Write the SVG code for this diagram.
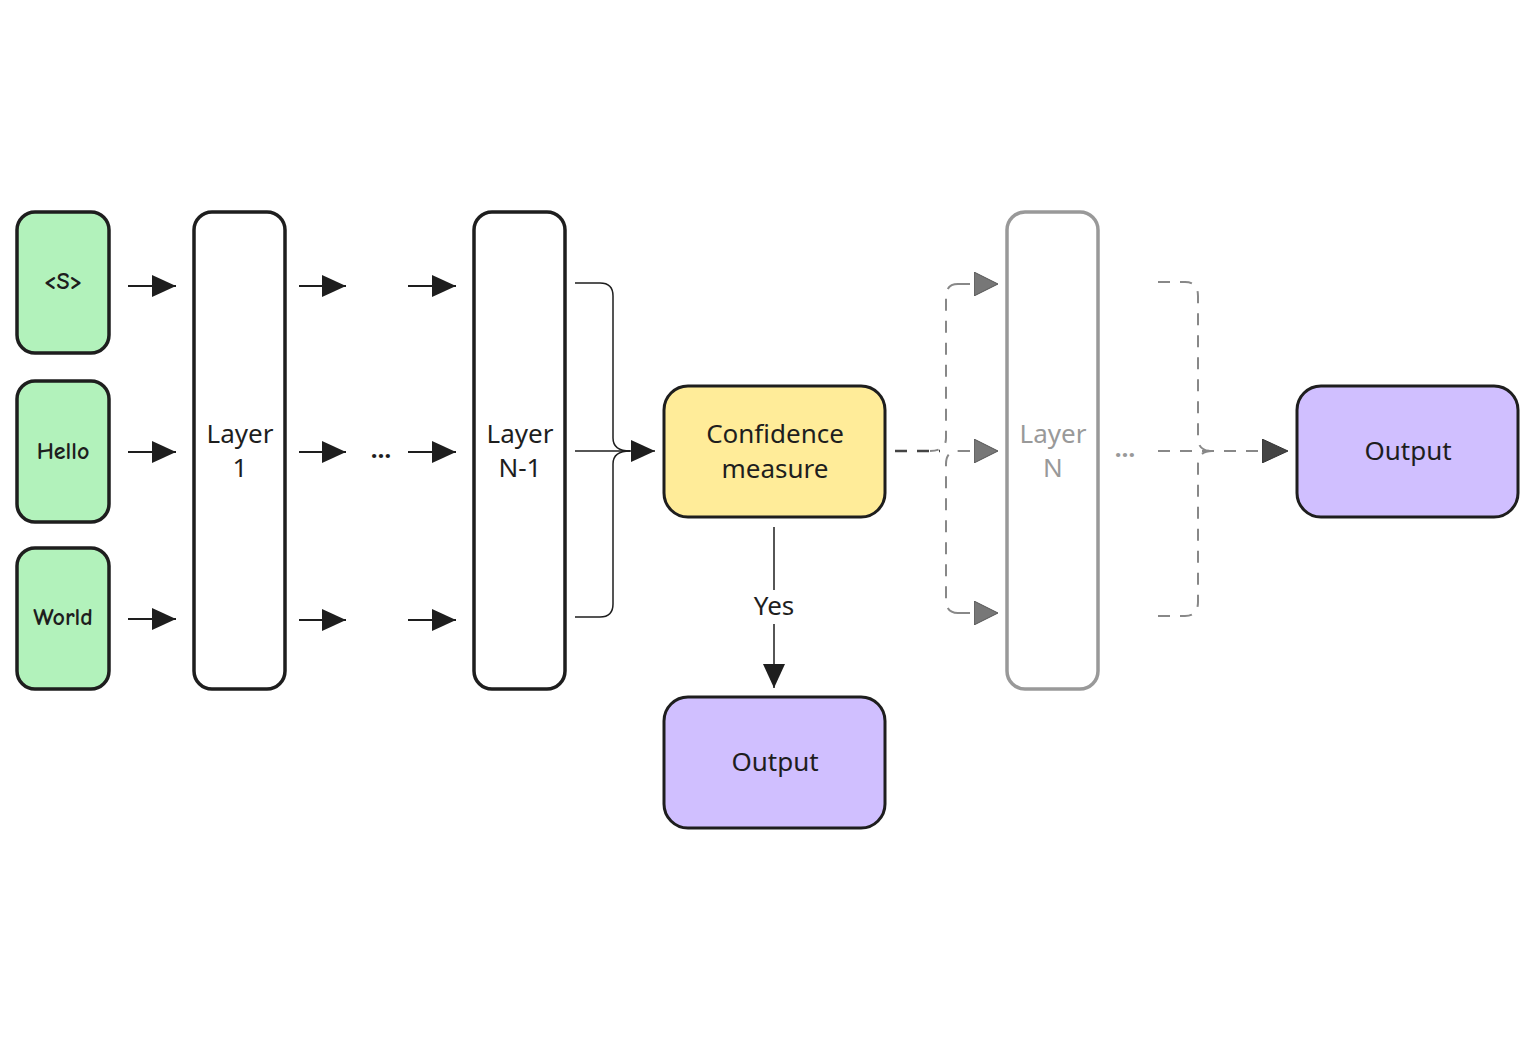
<svg xmlns="http://www.w3.org/2000/svg" width="1536" height="1040" viewBox="0 0 1536 1040">
<defs>
<style>
.tok rect{fill:#b2f2bb;stroke:#1e1e1e;stroke-width:3.5}
.tok text{font-family:"Comic Neue","DejaVu Sans",sans-serif;font-size:24px;font-weight:bold;fill:#1e1e1e;text-anchor:middle;dominant-baseline:central}
.layer rect{fill:#fff;stroke:#1e1e1e;stroke-width:3.5}
.lbl{font-family:"Noto Sans","Open Sans",sans-serif;font-size:26px;fill:#1e1e1e;text-anchor:middle}
.gray rect{fill:#fff;stroke:#999;stroke-width:3.5}
.gray text{fill:#999}
.conn{fill:none;stroke:#1e1e1e;stroke-width:2}
.dash{fill:none;stroke:#888;stroke-width:2;stroke-dasharray:12 10}
.dots{font-family:"Noto Sans",sans-serif;font-size:24px;font-weight:bold;text-anchor:middle}
</style>
<marker id="ah" markerWidth="24" markerHeight="22" refX="24" refY="11" orient="auto" markerUnits="userSpaceOnUse">
<path d="M0,0 L24,11 L0,22 Z" fill="#1e1e1e"/>
</marker>
<marker id="ahg" markerWidth="24" markerHeight="24" refX="24" refY="12" orient="auto" markerUnits="userSpaceOnUse">
<path d="M0,0 L24,12 L0,24 Z" fill="#777" stroke="#555" stroke-width="1"/>
</marker>
<marker id="ahd" markerWidth="26" markerHeight="24" refX="26" refY="12" orient="auto" markerUnits="userSpaceOnUse">
<path d="M0,0 L26,12 L0,24 Z" fill="#444" stroke="#333" stroke-width="1"/>
</marker>
</defs>

<g id="tok-s" class="tok"><rect x="17" y="212" width="92" height="141" rx="18"/><text x="63" y="281">&lt;S&gt;</text></g>
<g id="tok-hello" class="tok"><rect x="17" y="381" width="92" height="141" rx="18"/><text x="63" y="451">Hello</text></g>
<g id="tok-world" class="tok"><rect x="17" y="548" width="92" height="141" rx="18"/><text x="63" y="617">World</text></g>

<g id="layer1" class="layer"><rect x="194" y="212" width="91" height="477" rx="18"/><text class="lbl" x="240" y="443">Layer</text><text class="lbl" x="240" y="477">1</text></g>
<g id="layerN1" class="layer"><rect x="474" y="212" width="91" height="477" rx="18"/><text class="lbl" x="520" y="443">Layer</text><text class="lbl" x="520" y="477">N-1</text></g>
<g id="layerN" class="gray"><rect x="1007" y="212" width="91" height="477" rx="18"/><text class="lbl" x="1053" y="443">Layer</text><text class="lbl" x="1053" y="477">N</text></g>

<g id="confidence"><rect x="664" y="386" width="221" height="131" rx="24" fill="#ffec99" stroke="#1e1e1e" stroke-width="3"/><text class="lbl" x="775" y="443">Confidence</text><text class="lbl" x="775" y="478">measure</text></g>
<g id="output-yes"><rect x="664" y="697" width="221" height="131" rx="24" fill="#d0bfff" stroke="#1e1e1e" stroke-width="3"/><text class="lbl" x="775" y="771">Output</text></g>
<g id="output-final"><rect x="1297" y="386" width="221" height="131" rx="24" fill="#d0bfff" stroke="#1e1e1e" stroke-width="3"/><text class="lbl" x="1408" y="460">Output</text></g>

<g id="connectors">
<line class="conn" x1="128" y1="286" x2="176" y2="286" marker-end="url(#ah)"/>
<line class="conn" x1="128" y1="452" x2="176" y2="452" marker-end="url(#ah)"/>
<line class="conn" x1="128" y1="619" x2="176" y2="619" marker-end="url(#ah)"/>
<line class="conn" x1="299" y1="286" x2="346" y2="286" marker-end="url(#ah)"/>
<line class="conn" x1="299" y1="452" x2="346" y2="452" marker-end="url(#ah)"/>
<line class="conn" x1="299" y1="620" x2="346" y2="620" marker-end="url(#ah)"/>
<text class="dots" x="381" y="458" fill="#1e1e1e">…</text>
<line class="conn" x1="408" y1="286" x2="456" y2="286" marker-end="url(#ah)"/>
<line class="conn" x1="408" y1="452" x2="456" y2="452" marker-end="url(#ah)"/>
<line class="conn" x1="408" y1="620" x2="456" y2="620" marker-end="url(#ah)"/>
<path class="conn" style="stroke-width:1.5" d="M575,283 H600 Q613,283 613,296 V438 Q613,451 630,451"/>
<path class="conn" style="stroke-width:1.5" d="M575,617 H600 Q613,617 613,604 V464 Q613,451 630,451"/>
<line class="conn" style="stroke-width:1.5" x1="575" y1="451" x2="655" y2="451" marker-end="url(#ah)"/>

<line x1="774" y1="527" x2="774" y2="590" stroke="#1e1e1e" stroke-width="1.5"/>
<text class="lbl" x="774" y="615" font-size="24">Yes</text>
<line class="conn" style="stroke-width:1.5" x1="774" y1="624" x2="774" y2="688" marker-end="url(#ah)"/>

<line x1="895" y1="451" x2="940" y2="451" stroke="#444" stroke-width="2.5" stroke-dasharray="12 10"/>
<path class="dash" d="M958,284 Q946,284 946,297 V438 Q946,451 930,451"/>
<path class="dash" d="M958,613 Q946,613 946,600 V464 Q946,451 958,451"/>
<line class="dash" x1="958" y1="284" x2="998" y2="284" marker-end="url(#ahg)" stroke-dasharray="none"/>
<line class="dash" x1="958" y1="451" x2="998" y2="451" marker-end="url(#ahg)"/>
<line class="dash" x1="958" y1="613" x2="998" y2="613" marker-end="url(#ahg)" stroke-dasharray="none"/>
<text class="dots" x="1125" y="457" fill="#999">…</text>
<path class="dash" d="M1158,282 H1185 Q1198,282 1198,296 V438 Q1198,451 1212,451"/>
<path class="dash" d="M1158,616 H1185 Q1198,616 1198,602 V464 Q1198,451 1212,451"/>
<line class="dash" x1="1158" y1="451" x2="1288" y2="451" marker-end="url(#ahd)"/>
</g>
</svg>
